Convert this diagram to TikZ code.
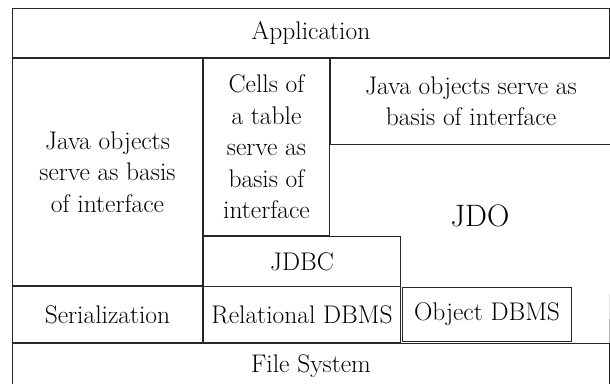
\documentclass[tikz,border=0pt]{standalone}
\usetikzlibrary{positioning}
\begin{document}
\begin{tikzpicture}[x=1pt, y=-1pt, font=\fontsize{25.5}{31.5}\selectfont,
		box/.style = {draw=black!85, line width=1pt, rectangle, inner sep=0pt, anchor=north west, align=center}]
		\useasboundingbox (0,0) rectangle (610,383);
		\node[box, minimum width=597pt, minimum height=49pt] (1) at (12,8) {Application};
		\node[box, minimum width=190pt, minimum height=227pt] (2) [below right=0pt of 1.south west] {Java objects\\serve as basis\\of interface};
		\node[box, minimum width=126pt, minimum height=177pt] (3) [below right=0pt of 2.north east] {Cells of\\a table\\serve as\\basis of\\interface};
		\node[box, minimum width=281pt, minimum height=86pt] (4) [below right=0pt of 3.north east] {Java objects serve as\\basis of interface};
		\node[box, minimum width=197pt, minimum height=50pt] (5) [below right=0pt of 3.south west] {JDBC};
		\node[box, minimum width=190pt, minimum height=56pt] (6) [below right=0pt of 2.south west] {Serialization};
		\node[box, minimum width=197pt, minimum height=56pt] (7) [below right=0pt of 6.north east] {Relational DBMS};
		\node[box, minimum width=169pt, minimum height=54pt] (8) [below right=1pt and 1pt of 7.north east] {Object DBMS};
		\node[box, minimum width=597pt, minimum height=46pt] (9) [below right=0pt of 6.south west] {File System};
		\node[font=\fontsize{31}{34}\selectfont] (10) at (480,216) {JDO};
		\draw[draw=black!85, line width=1pt] (4.south east) -- (9.north east);
	\end{tikzpicture}
\end{document}
